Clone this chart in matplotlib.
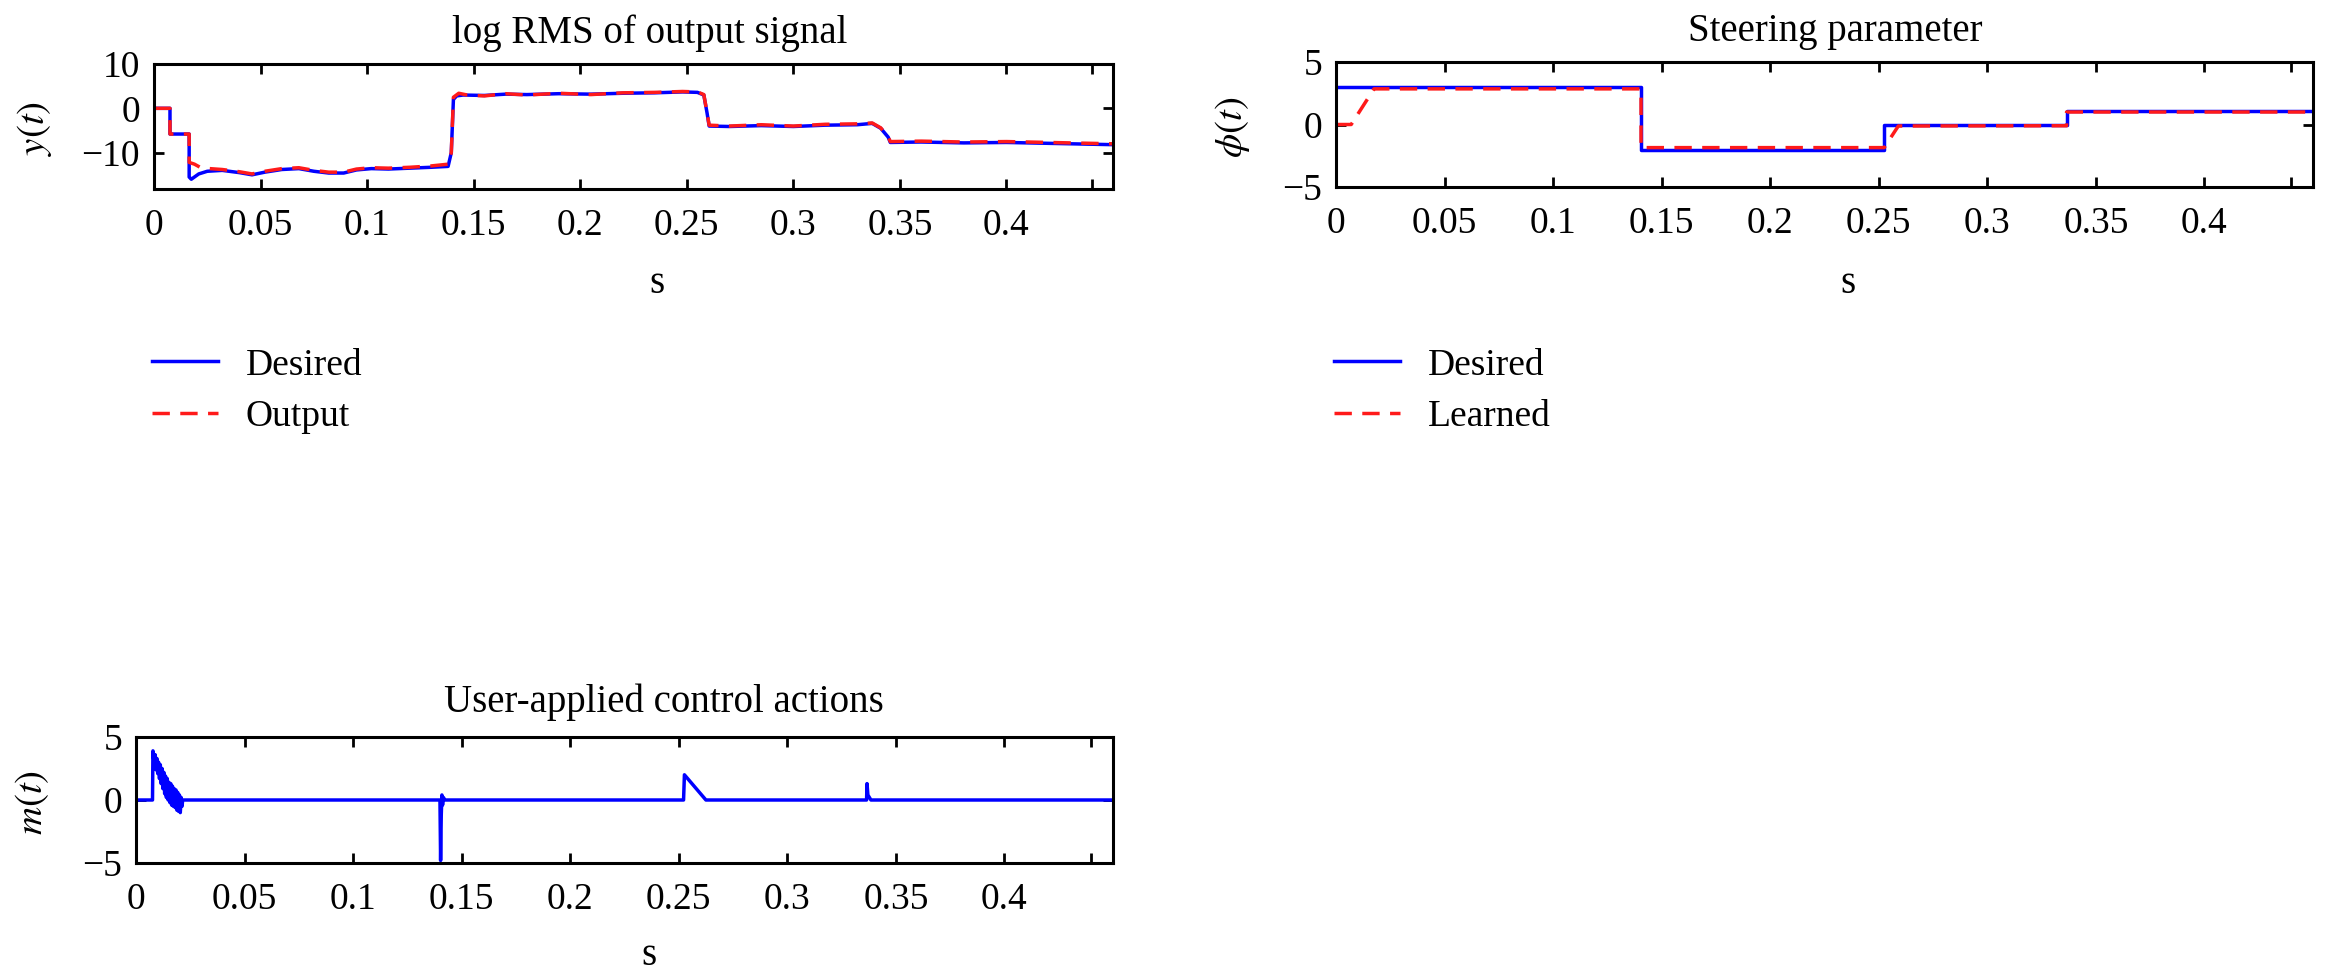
import matplotlib
matplotlib.use("Agg")
import matplotlib.pyplot as plt

plt.rcParams['font.family'] = ['Liberation Serif', 'DejaVu Serif']
plt.rcParams['mathtext.fontset'] = 'stix'

# ---------------- data ----------------
# log RMS of output signal
y_des_t = [0, 0.0075, 0.0075, 0.0165, 0.0165, 0.0175, 0.021, 0.025, 0.032, 0.040, 0.046,
           0.052, 0.060, 0.068, 0.075, 0.082, 0.089, 0.095, 0.102, 0.110, 0.120, 0.130,
           0.138, 0.1395, 0.1405, 0.142, 0.145, 0.155, 0.165, 0.175, 0.190, 0.205, 0.220,
           0.235, 0.248, 0.255, 0.258, 0.2595, 0.2605, 0.270, 0.285, 0.300, 0.315, 0.330,
           0.337, 0.341, 0.3445, 0.3455, 0.360, 0.380, 0.400, 0.420, 0.440, 0.450]
y_des_v = [0, 0, -5.8, -5.8, -15.5, -16.0, -14.8, -14.2, -14.0, -14.5, -15.0,
           -14.4, -13.8, -13.6, -14.2, -14.6, -14.6, -13.9, -13.6, -13.7, -13.5, -13.3,
           -13.1, -10.0, 2.0, 2.8, 3.0, 2.9, 3.2, 3.1, 3.3, 3.2, 3.4,
           3.5, 3.7, 3.6, 3.0, -1.0, -4.0, -4.1, -3.9, -4.1, -3.8, -3.7,
           -3.4, -4.5, -6.5, -7.7, -7.6, -7.8, -7.7, -7.9, -8.1, -8.2]
y_out_t = [0, 0.0075, 0.0075, 0.0165, 0.0165, 0.019, 0.022, 0.026, 0.032, 0.040, 0.046,
           0.052, 0.060, 0.068, 0.075, 0.082, 0.089, 0.095, 0.102, 0.110, 0.120, 0.130,
           0.138, 0.1395, 0.1405, 0.143, 0.147, 0.155, 0.165, 0.175, 0.190, 0.205, 0.220,
           0.235, 0.248, 0.255, 0.258, 0.2595, 0.2605, 0.270, 0.285, 0.300, 0.315, 0.330,
           0.337, 0.341, 0.3445, 0.3455, 0.360, 0.380, 0.400, 0.420, 0.440, 0.450]
y_out_v = [0, 0, -5.8, -5.8, -12.2, -12.6, -13.4, -13.6, -13.8, -14.3, -14.8,
           -14.2, -13.6, -13.4, -14.0, -14.4, -14.4, -13.7, -13.4, -13.5, -13.3, -13.0,
           -12.6, -10.0, 2.5, 3.4, 3.0, 2.8, 3.3, 3.0, 3.4, 3.1, 3.5,
           3.6, 3.8, 3.7, 3.1, -1.0, -3.8, -4.0, -3.7, -4.0, -3.6, -3.5,
           -3.3, -4.4, -6.4, -7.5, -7.4, -7.6, -7.5, -7.7, -7.9, -8.0]

# Steering parameter
phi_des_t = [0, 0.1405, 0.1405, 0.2525, 0.2525, 0.3365, 0.3365, 0.45]
phi_des_v = [3.0, 3.0, -2.0, -2.0, 0.0, 0.0, 1.08, 1.08]
phi_lrn_t = [0, 0.007, 0.0175, 0.1405, 0.1405, 0.2525, 0.259, 0.3365, 0.3365, 0.45]
phi_lrn_v = [0.0, 0.0, 2.85, 2.85, -1.85, -1.85, -0.12, -0.1, 1.0, 1.0]

# User-applied control actions
m_t = [0, 0.0076, 0.0078, 0.0084, 0.0088, 0.0092, 0.0096, 0.0100, 0.0104, 0.0108, 0.0112,
       0.0116, 0.0120, 0.0124, 0.0128, 0.0132, 0.0136, 0.0140, 0.0144, 0.0148, 0.0152,
       0.0156, 0.0160, 0.0164, 0.0168, 0.0172, 0.0176, 0.0180, 0.0184, 0.0188, 0.0192,
       0.0196, 0.0200, 0.0204, 0.0208, 0.0212, 0.0215,
       0.1400, 0.1403, 0.1406, 0.1409, 0.1412, 0.1416, 0.1422,
       0.2522, 0.2526, 0.2625,
       0.3365, 0.3367, 0.3371, 0.3385, 0.45]
m_v = [0, 0, 3.9, 2.8, 3.6, 2.4, 3.3, 2.1, 3.0, 1.7, 2.8,
       1.3, 2.5, 0.9, 2.2, 0.5, 1.9, 0.2, 1.7, 0.0, 1.4,
       -0.2, 1.3, -0.4, 1.1, -0.5, 0.9, -0.6, 0.8, -0.8, 0.6,
       -0.9, 0.4, -1.0, 0.2, -0.5, 0,
       0, -4.8, -1.2, 0.4, -0.4, 0.2, 0,
       0, 2.0, 0,
       0, 1.3, 0.4, 0, 0]

x_ticks = [0, 0.05, 0.1, 0.15, 0.2, 0.25, 0.3, 0.35, 0.4, 0.44]
x_ticklabels = ['0', '0.05', '0.1', '0.15', '0.2', '0.25', '0.3', '0.35', '0.4', '']

BLUE = '#0000ff'
RED = '#ff1a1a'
FS = 27
LW = 2.5
DASH = (0, (5, 3))

W, H = 2340, 972
fig = plt.figure(figsize=(W / 100, H / 100), dpi=100)


def add_ax(x0, y0, x1, y1):
    return fig.add_axes([x0 / W, 1 - y1 / H, (x1 - x0) / W, (y1 - y0) / H])


def style(ax, yticks, ylim):
    ax.set_xlim(0, 0.45)
    ax.set_ylim(*ylim)
    ax.set_xticks(x_ticks)
    ax.set_xticklabels(x_ticklabels)
    ax.set_yticks(yticks)
    ax.tick_params(direction='in', top=True, right=True, length=7, width=2,
                   labelsize=FS)
    ax.tick_params(axis='x', pad=14)
    ax.tick_params(axis='y', pad=10)
    for s in ax.spines.values():
        s.set_linewidth(2.2)


ax1 = add_ax(154, 64, 1113, 189)
ax1.plot(y_des_t, y_des_v, color=BLUE, lw=LW, label='Desired')
ax1.plot(y_out_t, y_out_v, color=RED, lw=LW, ls=DASH, label='Output')
style(ax1, [-10, 0, 10], (-18.2, 10))

ax2 = add_ax(1336, 62, 2313, 187)
ax2.plot(phi_des_t, phi_des_v, color=BLUE, lw=LW, label='Desired')
ax2.plot(phi_lrn_t, phi_lrn_v, color=RED, lw=LW, ls=DASH, label='Learned')
style(ax2, [-5, 0, 5], (-5, 5))

ax3 = add_ax(136, 737, 1113, 863)
ax3.plot(m_t, m_v, color=BLUE, lw=LW)
style(ax3, [-5, 0, 5], (-5, 5))

# titles
fig.text(650 / W, 1 - 33 / H, 'log RMS of output signal', ha='center', va='center', fontsize=FS + 1)
fig.text(1835 / W, 1 - 32 / H, 'Steering parameter', ha='center', va='center', fontsize=FS + 1)
fig.text(664 / W, 1 - 702 / H, 'User-applied control actions', ha='center', va='center', fontsize=FS + 1)

# x labels
fig.text(657 / W, 1 - 283 / H, 's', ha='center', va='center', fontsize=FS + 1)
fig.text(1848 / W, 1 - 283 / H, 's', ha='center', va='center', fontsize=FS + 1)
fig.text(649 / W, 1 - 955 / H, 's', ha='center', va='center', fontsize=FS + 1)

# y labels
fig.text(35 / W, 1 - 128 / H, r'$y(t)$', ha='center', va='center', rotation=90, fontsize=FS + 1)
fig.text(1232 / W, 1 - 127 / H, r'$\phi(t)$', ha='center', va='center', rotation=90, fontsize=FS + 1)
fig.text(32 / W, 1 - 803 / H, r'$m(t)$', ha='center', va='center', rotation=90, fontsize=FS + 1)

# legends
leg_kw = dict(loc='upper left', frameon=False, fontsize=FS, handlelength=1.75,
              handletextpad=0.75, labelspacing=0.45, borderaxespad=0, borderpad=0)
fig.legend(handles=ax1.get_lines(), bbox_to_anchor=(152 / W, 1 - 348 / H), **leg_kw)
fig.legend(handles=ax2.get_lines(), bbox_to_anchor=(1334 / W, 1 - 348 / H), **leg_kw)

fig.savefig('out.png', dpi=100)
